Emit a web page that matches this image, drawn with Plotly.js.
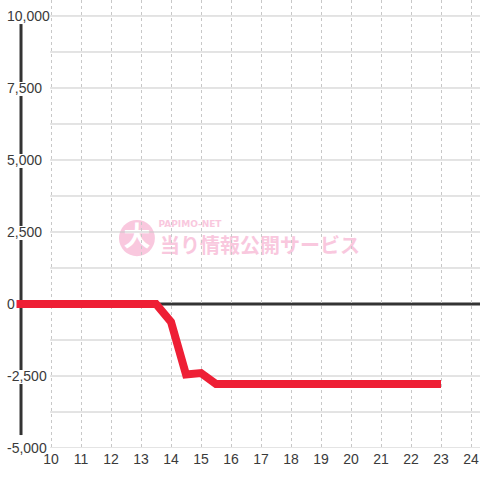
<!DOCTYPE html>
<html>
<head>
<meta charset="utf-8">
<script src="https://cdn.plot.ly/plotly-3.0.1.min.js"></script>
<style>html,body{margin:0;padding:0;background:#fff;}#chart{width:480px;height:480px;}</style>
</head>
<body>
<div id="chart"></div>
<script>
// data
const hours = [8.85, 13.5, 14, 14.5, 15, 15.5, 23];
const balance = [0, 0, -620, -2450, -2400, -2780, -2780];
const xTickVals = [10, 11, 12, 13, 14, 15, 16, 17, 18, 19, 20, 21, 22, 23, 24];
const xTickText = ['10', '11', '12', '13', '14', '15', '16', '17', '18', '19', '20', '21', '22', '23', '24'];
const yTickVals = [-5000, -3750, -2500, -1250, 0, 1250, 2500, 3750, 5000, 6250, 7500, 8750, 10000];
const yTickText = ['-5,000', '', '-2,500', '', '0', '', '2,500', '', '5,000', '', '7,500', '', '10,000'];
const watermarkText = '当り情報公開サービス';
const watermarkSub = 'PAPIMO-NET';
const watermarkLogo = '大';

const pink = '#f9c8de';
const labelFont = {family: 'Liberation Sans, Arial, sans-serif', size: 14, color: '#3a3a3a'};
const X_MIN = 8.433, X_MAX = 24.3, Y_MIN = -5000, Y_MAX = 10555;
const GRID_X0 = 9.97;   // horizontal grid lines start at the first vertical line
const AXIS_X = 9;       // position of the thick vertical axis line
const AXIS_TOP = 9720, AXIS_BOTTOM = -4550;
const UNITS_PER_PX = (Y_MAX - Y_MIN) / 448;

const trace = {
  x: hours, y: balance, type: 'scatter', mode: 'lines',
  line: {color: '#ee1f35', width: 8},
  hoverinfo: 'skip', showlegend: false
};

const shapes = [];
// watermark (below grid)
shapes.push({type: 'circle', layer: 'below', xref: 'paper', yref: 'paper',
  x0: 0.2416, x1: 0.317, y0: 0.428, y1: 0.509,
  fillcolor: pink, line: {width: 0},
  label: {text: '<b>' + watermarkLogo + '</b>', font: {family: 'Noto Sans CJK JP', size: 27, color: '#ffffff'}, textposition: 'middle center'}});
shapes.push({type: 'rect', layer: 'below', xref: 'paper', yref: 'paper',
  x0: 0.3277, x1: 0.7479, y0: 0.4263, y1: 0.471,
  fillcolor: 'rgba(0,0,0,0)', line: {width: 0},
  label: {text: '<b>' + watermarkText + '</b>', font: {family: 'Noto Sans CJK JP', size: 20, color: pink}, textposition: 'middle center'}});
shapes.push({type: 'rect', layer: 'below', xref: 'paper', yref: 'paper',
  x0: 0.332, x1: 0.4496, y0: 0.4911, y1: 0.5134,
  fillcolor: 'rgba(0,0,0,0)', line: {width: 0},
  label: {text: '<b>' + watermarkSub + '</b>', font: {family: 'DejaVu Sans', size: 9, color: pink}, textposition: 'middle center'}});
// horizontal grid lines from the tick values
yTickVals.forEach(function (v) {
  if (v === 0) return;
  shapes.push({type: 'line', layer: 'below', xref: 'x', yref: 'y',
    x0: GRID_X0, x1: X_MAX, y0: v, y1: v, line: {color: '#c8c8c8', width: 1}});
});
// zero line
shapes.push({type: 'line', layer: 'below', xref: 'x', yref: 'y',
  x0: AXIS_X, x1: X_MAX, y0: 0, y1: 0, line: {color: '#333333', width: 3}});
// thick vertical axis line, interrupted behind wide tick labels
const gaps = [];
yTickVals.forEach(function (v, i) {
  const t = yTickText[i];
  if (t.length > 1) gaps.push([v - 8 * UNITS_PER_PX, v + 6 * UNITS_PER_PX]);
});
gaps.sort(function (a, b) { return b[0] - a[0]; });
let segTop = AXIS_TOP;
gaps.forEach(function (g) {
  if (g[1] >= segTop && g[0] >= segTop) return;
  if (g[1] < segTop) {
    shapes.push({type: 'line', layer: 'below', xref: 'x', yref: 'y',
      x0: AXIS_X, x1: AXIS_X, y0: segTop, y1: Math.max(g[1], AXIS_BOTTOM), line: {color: '#333333', width: 3}});
  }
  segTop = Math.min(segTop, g[0]);
});
if (segTop > AXIS_BOTTOM) {
  shapes.push({type: 'line', layer: 'below', xref: 'x', yref: 'y',
    x0: AXIS_X, x1: AXIS_X, y0: segTop, y1: AXIS_BOTTOM, line: {color: '#333333', width: 3}});
}

const layout = {
  width: 480, height: 480,
  margin: {l: 4, r: 0, t: 0, b: 32},
  paper_bgcolor: '#ffffff', plot_bgcolor: '#ffffff',
  showlegend: false,
  xaxis: {
    range: [X_MIN, X_MAX], tickmode: 'array', tickvals: xTickVals, ticktext: xTickText,
    showgrid: true, gridcolor: '#c8c8c8', gridwidth: 1, griddash: '3px,3px',
    zeroline: false, showline: false, ticks: '', tickfont: labelFont, ticklabelstandoff: 1, fixedrange: true
  },
  yaxis: {
    range: [Y_MIN, Y_MAX], tickmode: 'array', tickvals: yTickVals, ticktext: yTickText,
    ticklabelposition: 'inside', ticklabeloverflow: 'allow',
    showgrid: false, zeroline: false, showline: false, ticks: '',
    tickfont: labelFont, fixedrange: true
  },
  shapes: shapes
};

Plotly.newPlot('chart', [trace], layout, {staticPlot: true, displayModeBar: false});
</script>
</body>
</html>
